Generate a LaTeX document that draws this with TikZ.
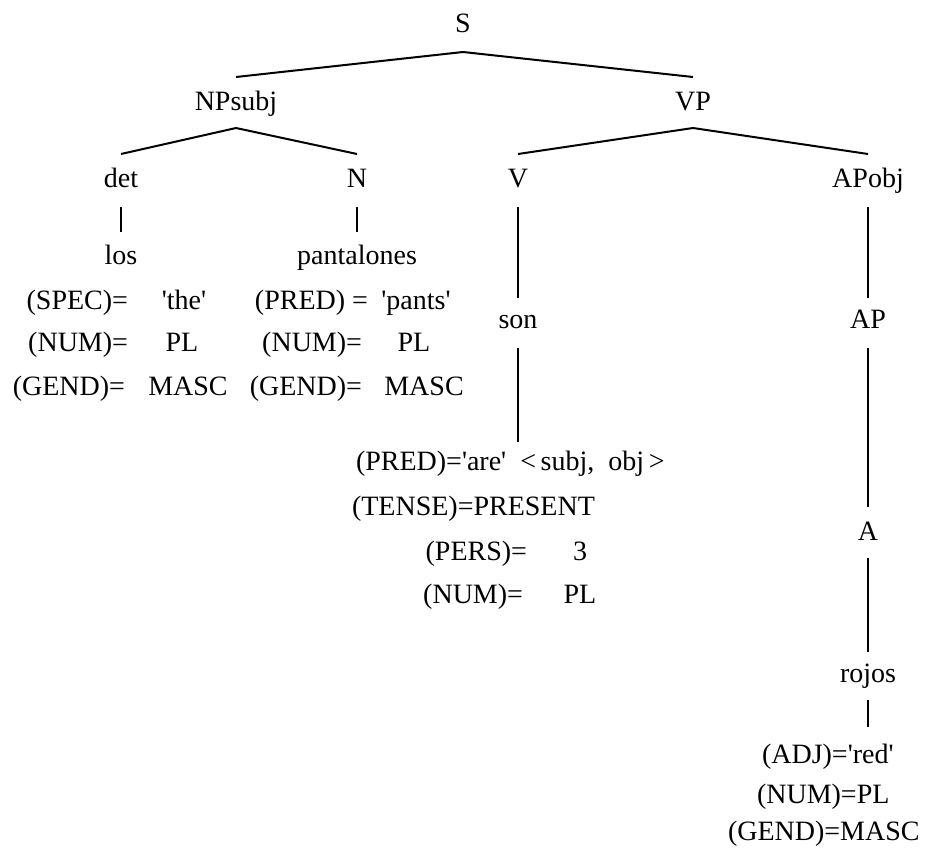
\documentclass[tikz,border=0pt]{standalone}
\usepackage{fontspec}
\setmainfont{Liberation Serif}
\newcommand{\q}{\textquotesingle}
\begin{document}
\begin{tikzpicture}[x=1pt,y=-1pt,
  lab/.style={inner sep=0pt,outer sep=0pt,anchor=base,text height=18pt,text depth=0pt,
              font=\fontsize{28}{34}\selectfont},
  labE/.style={lab,anchor=base east},
  labW/.style={lab,anchor=base west},
  branch/.style={line width=2pt,black}]
\useasboundingbox (0,0) rectangle (928,855);

% category labels
\node[lab] (S)    at (463,32)  {S};
\node[lab] (NP)   at (236,110) {NPsubj};
\node[lab] (VP)   at (693,110) {VP};
\node[lab] (det)  at (121,187) {det};
\node[lab] (N)    at (357,187) {N};
\node[lab] (V)    at (518,187) {V};
\node[lab] (APo)  at (868,187) {APobj};
\node[lab] (AP)   at (868,328) {AP};
\node[lab] (A)    at (868,540) {A};

% words
\node[lab] (los)  at (121,264) {los};
\node[lab] (pant) at (357,264) {pantalones};
\node[lab] (son)  at (518,328) {son};
\node[lab] (rojos) at (868,682) {rojos};

% feature structure of "los"
\node[labE] (l1a) at (128,309) {(SPEC)=};
\node[lab]  (l1b) at (184,309) {\q the\q};
\node[labE] (l2a) at (128,351) {(NUM)=};
\node[lab]  (l2b) at (182,351) {PL};
\node[labE] (l3a) at (125,395) {(GEND)=};
\node[lab]  (l3b) at (188,395) {MASC};

% feature structure of "pantalones"
\node[labE] (p1a) at (368,309) {(PRED) = };
\node[lab]  (p1b) at (416,309) {\q pants\q};
\node[labE] (p2a) at (362,351) {(NUM)=};
\node[lab]  (p2b) at (414,351) {PL};
\node[labE] (p3a) at (362,395) {(GEND)=};
\node[lab]  (p3b) at (424,395) {MASC};

% feature structure of "son"
\node[labW] (s1) at (356,470) {(PRED)=\q are\q\ \ <\,subj, \ obj\,>};
\node[labW] (s2) at (352,515) {(TENSE)=PRESENT};
\node[labE] (s3a) at (527,560) {(PERS)=};
\node[lab]  (s3b) at (580,560) {3};
\node[labE] (s4a) at (523,603) {(NUM)=};
\node[lab]  (s4b) at (580,603) {PL};

% feature structure of "rojos"
\node[labW] (r1) at (762,763) {(ADJ)=\q red\q};
\node[labW] (r2) at (757,803) {(NUM)=PL};
\node[labW] (r3) at (728,840) {(GEND)=MASC};

% branches
\draw[branch] ([yshift=-20pt]S.south) -- ([yshift=15pt]NP.north);
\draw[branch] ([yshift=-20pt]S.south) -- ([yshift=15pt]VP.north);
\draw[branch] ([yshift=-18pt]NP.south) -- ([yshift=15pt]det.north);
\draw[branch] ([yshift=-18pt]NP.south) -- ([yshift=15pt]N.north);
\draw[branch] ([yshift=-18pt]VP.south) -- ([yshift=15pt]V.north);
\draw[branch] ([yshift=-18pt]VP.south) -- ([yshift=15pt]APo.north);

% unary links
\draw[branch] ([yshift=-20pt]det.south) -- ([yshift=14pt]los.north);
\draw[branch] ([yshift=-20pt]N.south) -- ([yshift=14pt]pant.north);
\draw[branch] ([yshift=-20pt]V.south) -- ([yshift=12pt]son.north);
\draw[branch] ([yshift=-20pt]son.south) -- ([yshift=10pt]son.south |- s1.north);
\draw[branch] ([yshift=-20pt]APo.south) -- ([yshift=12pt]AP.north);
\draw[branch] ([yshift=-20pt]AP.south) -- ([yshift=15pt]A.north);
\draw[branch] ([yshift=-18pt]A.south) -- ([yshift=12pt]rojos.north);
\draw[branch] ([yshift=-18pt]rojos.south) -- ([yshift=18pt]rojos.south |- r1.north);
\end{tikzpicture}
\end{document}
